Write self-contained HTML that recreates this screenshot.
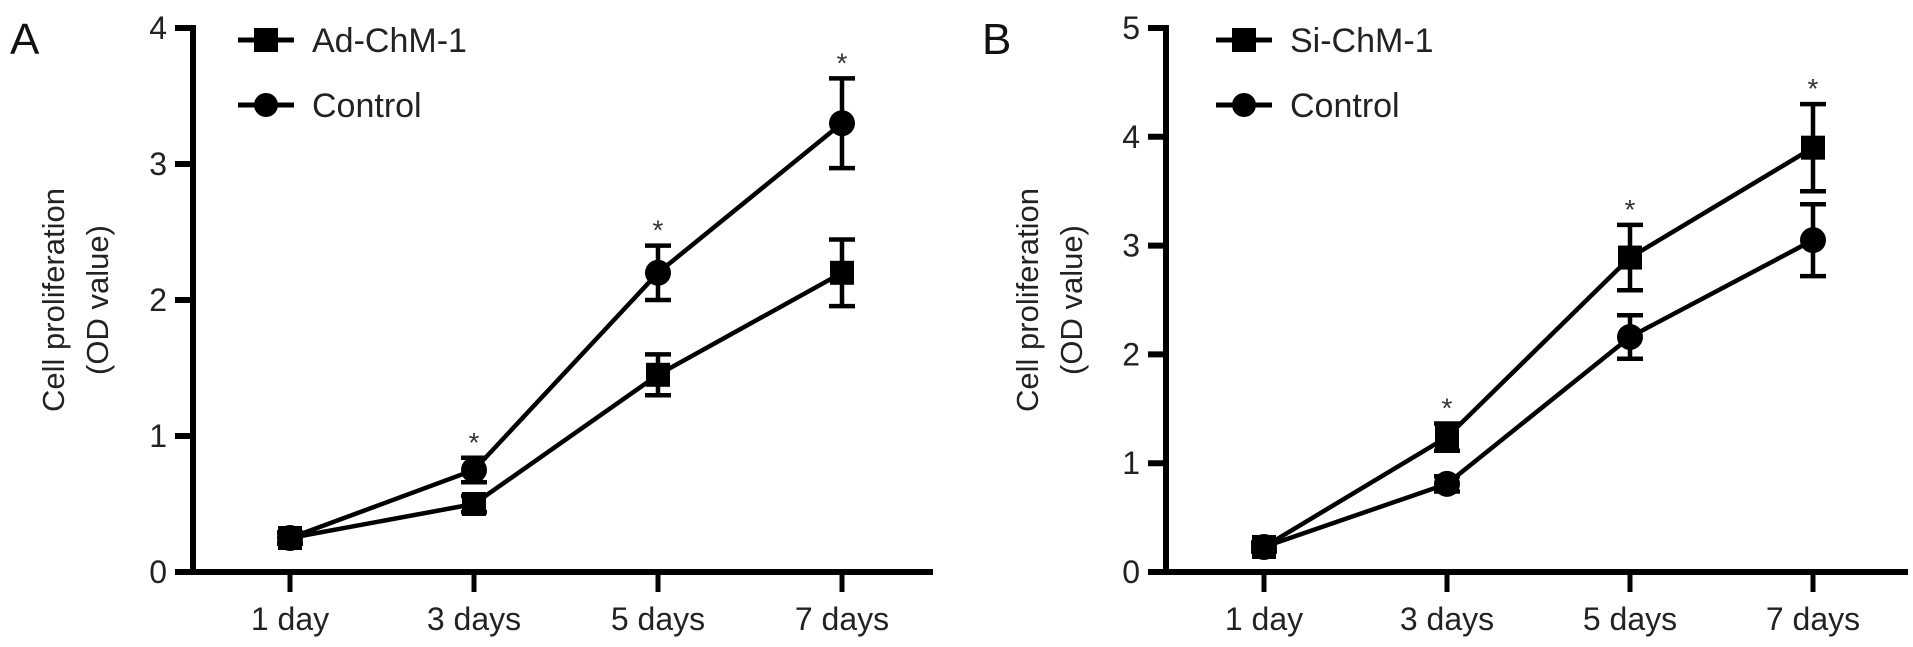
<!DOCTYPE html>
<html><head><meta charset="utf-8"><style>
html,body{margin:0;padding:0;background:#fff;}
svg{display:block;font-family:"Liberation Sans",Arial,sans-serif;}
</style></head><body>
<svg id="chart" width="1913" height="647" viewBox="0 0 1913 647" xmlns="http://www.w3.org/2000/svg"></svg>
<script>
const categories = ["1 day","3 days","5 days","7 days"];
const aTreatMean = [0.25,0.75,2.2,3.3];
const aTreatErr  = [0.04,0.09,0.2,0.33];
const aCtrlMean  = [0.25,0.5,1.45,2.2];
const aCtrlErr   = [0.04,0.06,0.15,0.245];
const bTreatMean = [0.23,1.24,2.89,3.9];
const bTreatErr  = [0.04,0.125,0.3,0.4];
const bCtrlMean  = [0.23,0.81,2.16,3.05];
const bCtrlErr   = [0.04,0.07,0.2,0.33];
const aTicks = [0,1,2,3,4];
const bTicks = [0,1,2,3,4,5];
const aStars = [false,true,true,true];
const bStars = [false,true,true,true];

const NS="http://www.w3.org/2000/svg";
const svg=document.getElementById('chart');
function mk(tag,attrs,parent){const e=document.createElementNS(NS,tag);for(const k in attrs)e.setAttribute(k,attrs[k]);(parent||svg).appendChild(e);return e;}

function panel(cfg){
  const g=mk('g',{});
  
  
  const y0=572, yTop=28, ymax=cfg.ticks[cfg.ticks.length-1];
  const Y=v=>y0-(y0-yTop)*v/ymax;
  const X=i=>cfg.x0+i*cfg.step;
  const L=mk('text',{x:cfg.letterX,y:54,'font-size':44,fill:'#111'},g);L.textContent=cfg.letter;
  
  
  const ya=mk('line',{x1:cfg.ax,y1:yTop-3,x2:cfg.ax,y2:y0+3,stroke:'#000','stroke-width':6},g);
  
  
  cfg.ticks.forEach(t=>{
    mk('line',{x1:cfg.ax-18,y1:Y(t),x2:cfg.ax,y2:Y(t),stroke:'#000','stroke-width':6},g);
    const tl=mk('text',{x:cfg.ax-26,y:Y(t)+11,'font-size':32,'text-anchor':'end',fill:'#222'},g);
    tl.textContent=t;
    
    
  });
  const xa=mk('line',{x1:cfg.ax-18,y1:y0,x2:cfg.axEnd,y2:y0,stroke:'#000','stroke-width':6},g);
  
  
  categories.forEach((c,i)=>{
    mk('line',{x1:X(i),y1:y0,x2:X(i),y2:y0+20,stroke:'#000','stroke-width':5},g);
    const tl=mk('text',{x:X(i),y:630,'font-size':32,'text-anchor':'middle',fill:'#222'},g);
    tl.textContent=c;
    
    
  });
  const yt=mk('text',{transform:`translate(${cfg.titleX},300) rotate(-90)`,'font-size':31,'text-anchor':'middle',fill:'#222'},g);
  
  
  const t1=mk('tspan',{x:0,y:0},yt);t1.textContent='Cell proliferation';
  const t2=mk('tspan',{x:0,y:44},yt);t2.textContent='(OD value)';
  function series(mean,err,shape,nm){
    const sg=mk('g',{},g);
    
    
    mk('polyline',{points:mean.map((v,i)=>X(i)+','+Y(v)).join(' '),fill:'none',stroke:'#000','stroke-width':4.5},sg);
    mean.forEach((v,i)=>{
      const x=X(i),hi=Y(v+err[i]),lo=Y(v-err[i]);
      mk('line',{x1:x,y1:hi,x2:x,y2:lo,stroke:'#000','stroke-width':4.5},sg);
      mk('line',{x1:x-13,y1:hi,x2:x+13,y2:hi,stroke:'#000','stroke-width':4.5},sg);
      mk('line',{x1:x-13,y1:lo,x2:x+13,y2:lo,stroke:'#000','stroke-width':4.5},sg);
      if(shape==='sq') mk('rect',{x:x-12,y:Y(v)-12,width:24,height:24,fill:'#000'},sg);
      else mk('circle',{cx:x,cy:Y(v),r:13,fill:'#000'},sg);
    });
  }
  series(cfg.ctrl,cfg.ctrlErr,'sq',cfg.lowName);
  series(cfg.treat,cfg.treatErr,'ci',cfg.highName);
  cfg.stars.forEach((s,i)=>{
    if(!s)return;
    const top=Math.min(Y(cfg.treat[i]+cfg.treatErr[i]),Y(cfg.ctrl[i]+cfg.ctrlErr[i]));
    const st=mk('text',{x:X(i),y:top-6,'font-size':28,'text-anchor':'middle',fill:'#333'},g);
    st.textContent='*';
    
    
  });
  [[cfg.leg1,'sq',40],['Control','ci',105]].forEach(([lab,sh,ly])=>{
    const lg=mk('g',{},g);
    
    
    mk('line',{x1:cfg.legX,y1:ly,x2:cfg.legX+56,y2:ly,stroke:'#000','stroke-width':5},lg);
    if(sh==='sq') mk('rect',{x:cfg.legX+16,y:ly-12,width:24,height:24,fill:'#000'},lg);
    else mk('circle',{cx:cfg.legX+28,cy:ly,r:12,fill:'#000'},lg);
    const tx=mk('text',{x:cfg.legX+74,y:ly+12,'font-size':34,fill:'#222'},lg);tx.textContent=lab;
  });
}
panel({name:'panel-a',letter:'A',letterX:10,ax:193,axEnd:933,x0:290,step:184,ticks:aTicks,titleX:64,
  treat:aTreatMean,treatErr:aTreatErr,ctrl:aCtrlMean,ctrlErr:aCtrlErr,stars:aStars,legX:238,leg1:'Ad-ChM-1',
  lowName:'series-ad-chm-1',highName:'series-control'});
</script>
<script>
(function(){
  const NS2="http://www.w3.org/2000/svg";
  const g=document.getElementById('chart');
  const y0=572,yTop=28,ymax=5;
  const Y=v=>y0-(y0-yTop)*v/ymax;
  const X=i=>1264+i*183;
  const ax=1166;
  function mk(tag,attrs,parent){const e=document.createElementNS(NS2,tag);for(const k in attrs)e.setAttribute(k,attrs[k]);(parent||g).appendChild(e);return e;}
  const pg=mk('g',{});
  
  
  const L=mk('text',{x:982,y:54,'font-size':44,fill:'#111'},pg);L.textContent='B';
  
  
  const ya=mk('line',{x1:ax,y1:yTop-3,x2:ax,y2:y0+3,stroke:'#000','stroke-width':6},pg);
  
  
  bTicks.forEach(t=>{
    mk('line',{x1:ax-18,y1:Y(t),x2:ax,y2:Y(t),stroke:'#000','stroke-width':6},pg);
    const tl=mk('text',{x:ax-26,y:Y(t)+11,'font-size':32,'text-anchor':'end',fill:'#222'},pg);tl.textContent=t;
    
    
  });
  const xa=mk('line',{x1:ax-18,y1:y0,x2:1908,y2:y0,stroke:'#000','stroke-width':6},pg);
  
  
  categories.forEach((c,i)=>{
    mk('line',{x1:X(i),y1:y0,x2:X(i),y2:y0+20,stroke:'#000','stroke-width':5},pg);
    const tl=mk('text',{x:X(i),y:630,'font-size':32,'text-anchor':'middle',fill:'#222'},pg);tl.textContent=c;
    
    
  });
  const yt=mk('text',{transform:'translate(1038,300) rotate(-90)','font-size':31,'text-anchor':'middle',fill:'#222'},pg);
  
  
  const t1=mk('tspan',{x:0,y:0},yt);t1.textContent='Cell proliferation';
  const t2=mk('tspan',{x:0,y:44},yt);t2.textContent='(OD value)';
  function series(mean,err,shape,nm){
    const sg=mk('g',{},pg);
    
    
    mk('polyline',{points:mean.map((v,i)=>X(i)+','+Y(v)).join(' '),fill:'none',stroke:'#000','stroke-width':4.5},sg);
    mean.forEach((v,i)=>{
      const x=X(i),hi=Y(v+err[i]),lo=Y(v-err[i]);
      mk('line',{x1:x,y1:hi,x2:x,y2:lo,stroke:'#000','stroke-width':4.5},sg);
      mk('line',{x1:x-13,y1:hi,x2:x+13,y2:hi,stroke:'#000','stroke-width':4.5},sg);
      mk('line',{x1:x-13,y1:lo,x2:x+13,y2:lo,stroke:'#000','stroke-width':4.5},sg);
      if(shape==='sq') mk('rect',{x:x-12,y:Y(v)-12,width:24,height:24,fill:'#000'},sg);
      else mk('circle',{cx:x,cy:Y(v),r:13,fill:'#000'},sg);
    });
  }
  series(bCtrlMean,bCtrlErr,'ci','series-control');
  series(bTreatMean,bTreatErr,'sq','series-si-chm-1');
  bStars.forEach((s,i)=>{
    if(!s)return;
    const top=Math.min(Y(bTreatMean[i]+bTreatErr[i]),Y(bCtrlMean[i]+bCtrlErr[i]));
    const st=mk('text',{x:X(i),y:top-6,'font-size':28,'text-anchor':'middle',fill:'#333'},pg);st.textContent='*';
    
    
  });
  [['Si-ChM-1','sq',40],['Control','ci',105]].forEach(([lab,sh,ly])=>{
    const lg=mk('g',{},pg);
    
    
    const lx=1216;
    mk('line',{x1:lx,y1:ly,x2:lx+56,y2:ly,stroke:'#000','stroke-width':5},lg);
    if(sh==='sq') mk('rect',{x:lx+16,y:ly-12,width:24,height:24,fill:'#000'},lg);
    else mk('circle',{cx:lx+28,cy:ly,r:12,fill:'#000'},lg);
    const tx=mk('text',{x:lx+74,y:ly+12,'font-size':34,fill:'#222'},lg);tx.textContent=lab;
  });
})();
</script>
</body></html>
